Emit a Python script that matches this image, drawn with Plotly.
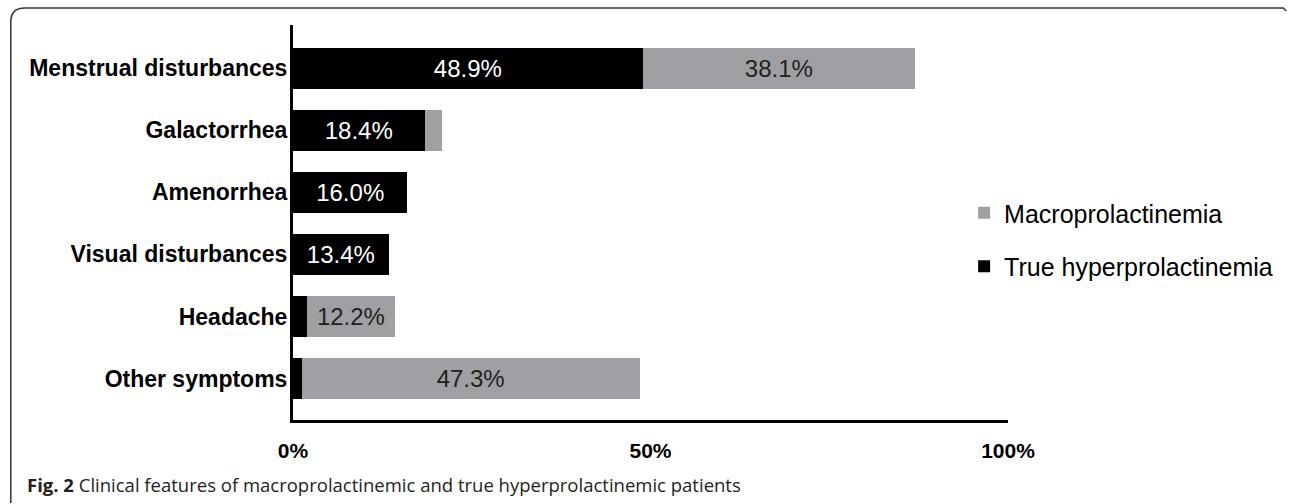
import plotly.graph_objects as go

categories = ["Menstrual disturbances", "Galactorrhea", "Amenorrhea",
              "Visual disturbances", "Headache", "Other symptoms"]
true_hyper = [48.9, 18.4, 16.0, 13.4, 2.0, 1.2]
macro = [38.1, 2.5, 0.0, 0.0, 12.2, 47.3]
true_labels = ["48.9%", "18.4%", "16.0%", "13.4%", "", ""]
macro_labels = ["38.1%", "", "", "", "12.2%", "47.3%"]
tick_vals = [0, 50, 100]
tick_text = ["0%", "50%", "100%"]

W, H = 1290, 504
L, R, T, B = 293, 280, 25, 84
pw, ph = W - L - R, H - T - B


def px(x):
    return (x - L) / pw


def py(y):
    return (H - B - y) / ph


fig = go.Figure()
fig.add_trace(go.Bar(
    y=categories, x=true_hyper, orientation="h", name="True hyperprolactinemia",
    marker=dict(color="#000000", line=dict(width=0)),
    text=true_labels, textposition="inside", insidetextanchor="middle",
    textangle=0, constraintext="none",
    textfont=dict(family="Liberation Sans, Arial", size=24, color="#ffffff"),
    legendgroup="true", legendrank=2,
))
fig.add_trace(go.Bar(
    y=categories, x=macro, orientation="h", name="Macroprolactinemia",
    marker=dict(color="#a09fa4", line=dict(width=0)),
    text=macro_labels, textposition="inside", insidetextanchor="middle",
    textangle=0, constraintext="none",
    textfont=dict(family="Liberation Sans, Arial", size=24, color="#231f20"),
    legendgroup="macro", legendrank=1,
))

border = (f"M {px(10)},{py(503)} L {px(10)},{py(22)} "
          f"Q {px(10)},{py(8)} {px(24)},{py(8)} L {px(1286)},{py(8)} "
          f"L {px(1289)},{py(11)}")

fig.update_layout(
    width=W, height=H,
    margin=dict(l=L, r=R, t=T, b=B, pad=0),
    barmode="stack", bargap=0.335,
    plot_bgcolor="#ffffff", paper_bgcolor="#ffffff",
    font=dict(family="Liberation Sans, Arial", color="#000000"),
    xaxis=dict(
        range=[0, 100], tickvals=tick_vals, ticktext=tick_text,
        showgrid=False, zeroline=False, ticks="",
        showline=True, linecolor="#000000", linewidth=3,
        tickfont=dict(family="Liberation Sans, Arial", size=21, color="#000000", weight="bold"),
        ticklabelstandoff=10,
    ),
    yaxis=dict(
        categoryorder="array", categoryarray=categories,
        range=[5.67, -0.70], showgrid=False, zeroline=False, ticks="",
        showline=True, linecolor="#000000", linewidth=3,
        tickfont=dict(family="Liberation Sans, Arial", size=23, color="#000000", weight="bold"),
        ticklabelstandoff=-2,
    ),
    legend=dict(
        x=px(966), y=py(190), xanchor="left", yanchor="top",
        traceorder="grouped", tracegroupgap=18,
        font=dict(family="Liberation Sans, Arial", size=25, color="#000000"),
        bgcolor="rgba(0,0,0,0)",
    ),
    shapes=[dict(type="path", path=border, xref="paper", yref="paper",
                 line=dict(color="#333333", width=1.5))],
    annotations=[dict(
        x=px(24), y=py(484), xref="paper", yref="paper",
        xanchor="left", yanchor="middle", showarrow=False,
        text="<b>Fig. 2</b> Clinical features of macroprolactinemic and true hyperprolactinemic patients",
        font=dict(family="Open Sans", size=18.5, color="#231f20"),
    )],
)

fig.write_html("out.html", config={"displayModeBar": False},
               post_script="document.body.style.margin='0';")
